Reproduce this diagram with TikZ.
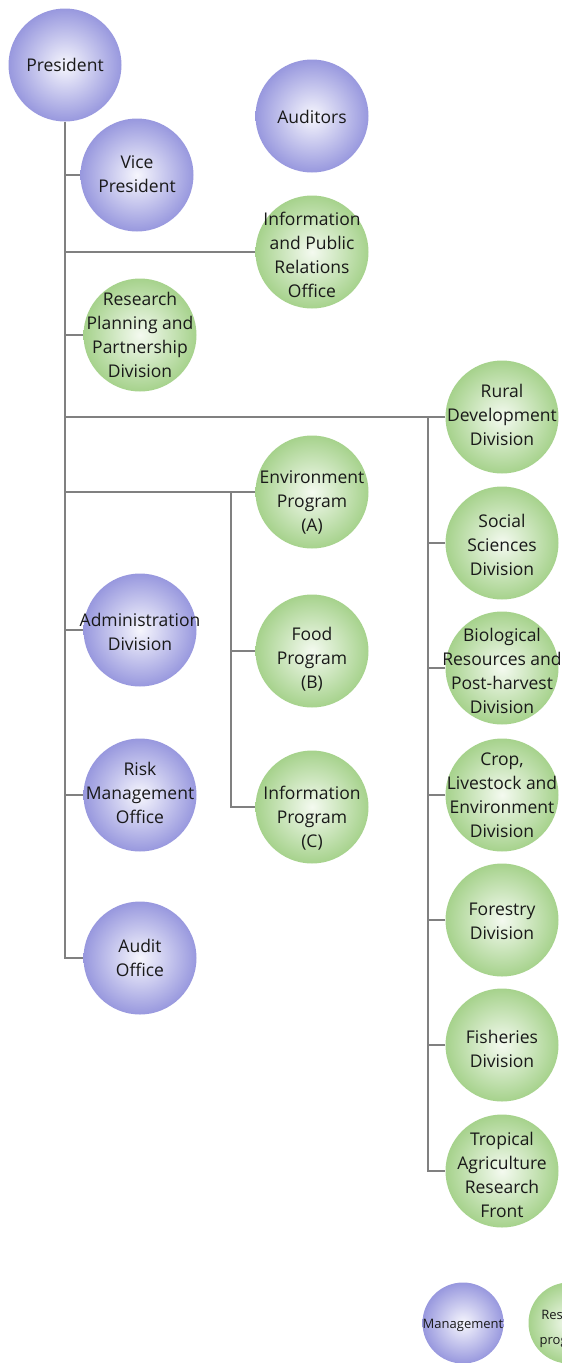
\documentclass[tikz,border=0pt]{standalone}
\usepackage{fontspec}
\setmainfont{Open Sans}
\definecolor{mgmt}{RGB}{152,152,222}
\definecolor{mgmtc}{RGB}{246,246,253}
\definecolor{res}{RGB}{166,210,140}
\definecolor{resc}{RGB}{244,250,240}
\definecolor{linec}{RGB}{128,128,128}
\tikzset{
  unit/.style={circle, minimum size=113pt, inner sep=0pt},
  mg/.style={unit, inner color=mgmtc, outer color=mgmt},
  rs/.style={unit, inner color=resc, outer color=res},
  lbl/.style={align=center, inner sep=0pt, font=\fontsize{17.5}{24}\selectfont, text=black!90},
  small/.style={minimum size=81pt},
  slbl/.style={lbl, font=\fontsize{13}{25}\selectfont},
  conn/.style={draw=linec, line width=2pt}
}
% #1 style, #2 name, #3 position, #4 vertical text offset (down), #5 text
\newcommand{\orgunit}[5]{\node[#1, label={[lbl, yshift=-#4pt]center:{#5}}] (#2) at (#3) {};}
\begin{document}
\begin{tikzpicture}[x=1pt,y=-1pt]
\useasboundingbox (0,0) rectangle (562,1363);
% nodes
\orgunit{mg}{pres}{65,65}{0}{President}
\orgunit{mg}{vp}{137,175}{-1}{Vice\\President}
\orgunit{mg}{aud}{312,116}{1}{Auditors}
\orgunit{rs}{ipr}{312,252}{3}{Information\\and Public\\Relations\\Office}
\orgunit{rs}{rpp}{140,335}{0}{Research\\Planning and\\Partnership\\Division}
\orgunit{rs}{rur}{502,417}{-2}{Rural\\Development\\Division}
\orgunit{rs}{env}{312,492}{10}{Environment\\Program\\(A)}
\orgunit{rs}{soc}{502,543}{2}{Social\\Sciences\\Division}
\orgunit{mg}{adm}{140,630}{2}{Administration\\Division}
\orgunit{rs}{food}{312,651}{8}{Food\\Program\\(B)}
\orgunit{rs}{bio}{502,668}{3}{Biological\\Resources and\\Post-harvest\\Division}
\orgunit{mg}{risk}{140,795}{-2}{Risk\\Management\\Office}
\orgunit{rs}{crop}{502,795}{0}{Crop,\\Livestock and\\Environment\\Division}
\orgunit{rs}{infp}{312,807}{11}{Information\\Program\\(C)}
\orgunit{rs}{for}{502,920}{1}{Forestry\\Division}
\orgunit{mg}{audo}{140,958}{0}{Audit\\Office}
\orgunit{rs}{fish}{502,1045}{4}{Fisheries\\Division}
\orgunit{rs}{trop}{502,1171}{4}{Tropical\\Agriculture\\Research\\Front}
% legend
\node[mg, small, label={[slbl, yshift=-2pt]center:Management}] (lm) at (463,1323) {};
\node[rs, small, label={[slbl, yshift=-6pt]center:{Research\\programs}}] (lr) at (569,1323) {};
% connectors
\coordinate (tb) at (65,958);
\coordinate (rt) at (428,417);
\coordinate (rb) at (428,1171);
\coordinate (st) at (231,492);
\coordinate (sb) at (231,807);
\draw[conn] (pres.south) -- (tb) -- (audo.west);
\draw[conn] (vp.west) -- (vp.west -| pres);
\draw[conn] (ipr.west) -- (ipr.west -| pres);
\draw[conn] (rpp.west) -- (rpp.west -| pres);
\draw[conn] (rur.west) -- (rur.west -| pres);
\draw[conn] (env.west) -- (env.west -| pres);
\draw[conn] (adm.west) -- (adm.west -| pres);
\draw[conn] (risk.west) -- (risk.west -| pres);
\draw[conn] (rt) -- (rb) -- (trop.west);
\draw[conn] (soc.west) -- (soc.west -| rt);
\draw[conn] (bio.west) -- (bio.west -| rt);
\draw[conn] (crop.west) -- (crop.west -| rt);
\draw[conn] (for.west) -- (for.west -| rt);
\draw[conn] (fish.west) -- (fish.west -| rt);
\draw[conn] (st) -- (sb) -- (infp.west);
\draw[conn] (food.west) -- (food.west -| st);
\end{tikzpicture}
\end{document}
